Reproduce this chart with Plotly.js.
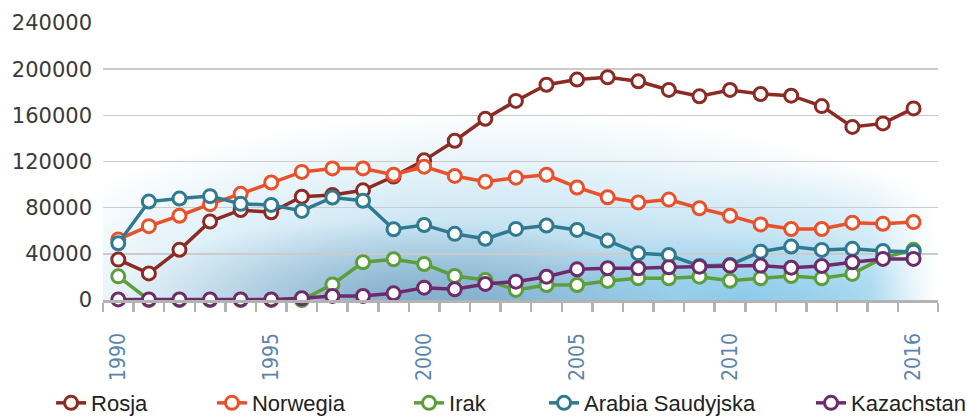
<!DOCTYPE html>
<html>
<head>
<meta charset="utf-8">
<script src="https://cdn.plot.ly/plotly-3.0.1.min.js"></script>
<style>
  html, body { margin: 0; padding: 0; background: #ffffff; }
  #wrap { position: relative; width: 967px; height: 418px; overflow: hidden; }
  #glow {
    position: absolute; left: 103px; top: 95px; width: 835px; height: 205px;
    background:
      linear-gradient(to right, rgba(255,255,255,0) 92%, rgba(255,255,255,1) 100%),
      radial-gradient(ellipse 280px 80px at 290px 205px, rgba(70,120,160,0.42), rgba(70,120,160,0) 100%),
      radial-gradient(ellipse 230px 70px at 640px 205px, rgba(110,190,230,0.55), rgba(110,190,230,0) 100%),
      radial-gradient(ellipse 520px 195px at 400px 210px, rgba(125,185,220,0.78), rgba(165,212,236,0.45) 55%, rgba(255,255,255,0) 100%),
      radial-gradient(ellipse 280px 140px at 700px 210px, rgba(130,200,235,0.55), rgba(255,255,255,0) 100%);
  }
  #chart { position: absolute; left: 0; top: 0; width: 967px; height: 418px; }
</style>
</head>
<body>
<div id="wrap">
  <div id="glow"></div>
  <div id="chart"></div>
</div>
<script>
const years = [1990,1991,1992,1993,1994,1995,1996,1997,1998,1999,2000,2001,2002,2003,2004,2005,2006,2007,2008,2009,2010,2011,2012,2013,2014,2015,2016];

const rosja = [35000,23000,43500,68000,78000,76000,89500,91000,95000,107000,121000,138000,157000,172500,186500,191000,193000,189500,182000,176500,182000,178500,177000,168000,150000,153000,166000];
const norwegia = [52500,64000,73000,83000,92000,101800,111000,114000,114000,108500,115500,107500,102500,106000,108500,97500,89000,84500,87000,79500,73000,65500,61500,61500,67000,66000,67500];
const irak = [20500,0,0,0,0,0,0,13500,32700,35300,31200,20800,17400,8700,13000,13000,16500,18800,18800,20200,16700,18800,20800,18800,22600,36500,43500];
const arabia = [49200,85300,87900,90000,83300,82400,77200,88800,86000,61300,65000,57300,53000,61600,64500,60700,51500,40500,39000,29500,30400,41900,46300,43400,44300,42500,41900];
const kazachstan = [500,500,500,500,500,500,1500,3500,3500,5800,10700,9300,13900,15900,20200,26600,27500,27500,28400,28900,29800,29800,28000,29500,32700,35600,35600];

const seriesNames = ["Rosja","Norwegia","Irak","Arabia Saudyjska","Kazachstan"];
const seriesData = [rosja, norwegia, irak, arabia, kazachstan];
const seriesColors = ["#8b2b24","#e9512b","#5c9d3c","#2f7a90","#6e2b6c"];
const legendIds = ["legend","legend2","legend3","legend4","legend5"];
const legendX = [-0.0622, 0.1305, 0.3665, 0.5282, 0.8479];

const yTickVals = [0,40000,80000,120000,160000,200000,240000];
const yTickText = ["0","40000","80000","120000","160000","200000","240000"];
const xTickVals = [1990,1995,2000,2005,2010,2016];
const xTickText = ["1990","1995","2000","2005","2010","2016"];
const xMinorTicks = [1989.5,1990.5,1991.5,1992.5,1993.5,1994.5,1995.5,1996.5,1997.5,1998.5,1999.5,2000.5,2001.5,2002.5,2003.5,2004.5,2005.5,2006.5,2007.5,2008.5,2009.5,2010.5,2011.5,2012.5,2013.5,2014.5,2015.5,2016.8];

const traces = seriesNames.map((name, i) => ({
  type: "scatter",
  mode: "lines+markers",
  name: name,
  x: years,
  y: seriesData[i],
  legend: legendIds[i],
  cliponaxis: false,
  line: { color: seriesColors[i], width: 3.5 },
  marker: { symbol: "circle", size: 13, color: "#ffffff", line: { color: seriesColors[i], width: 3 } },
  hoverinfo: "x+y+name"
}));

const layout = {
  width: 967,
  height: 418,
  margin: { l: 103, r: 29, t: 23, b: 118, autoexpand: false },
  paper_bgcolor: "rgba(0,0,0,0)",
  plot_bgcolor: "rgba(0,0,0,0)",
  showlegend: true,
  xaxis: {
    range: [1989.5, 2016.8],
    showgrid: false,
    zeroline: false,
    showline: true,
    linecolor: "#b3b3b3",
    linewidth: 2.5,
    tickmode: "array",
    tickvals: xTickVals,
    ticktext: xTickText,
    ticks: "",
    tickangle: -90,
    ticklabelstandoff: 22,
    automargin: false,
    tickfont: { family: "DejaVu Sans Condensed, DejaVu Sans", size: 21, color: "#5a84ab" },
    minor: { tickmode: "array", tickvals: xMinorTicks, ticks: "outside", ticklen: 9, tickwidth: 2.5, tickcolor: "#b3b3b3", showgrid: false }
  },
  yaxis: {
    range: [0, 240000],
    tickmode: "array",
    tickvals: yTickVals,
    ticktext: yTickText,
    showgrid: true,
    gridcolor: "#cbcbcb",
    gridwidth: 1.5,
    zeroline: false,
    showline: false,
    ticks: "",
    automargin: false,
    ticklabelstandoff: 10,
    tickfont: { family: "DejaVu Sans", size: 21, color: "#3a3a3a" }
  },
  font: { family: "Liberation Sans, Arial, sans-serif" }
};

legendIds.forEach((id, i) => {
  layout[id] = {
    orientation: "h",
    x: legendX[i],
    xanchor: "left",
    y: -0.372,
    yanchor: "middle",
    bgcolor: "rgba(0,0,0,0)",
    borderwidth: 0,
    font: { family: "Liberation Sans, Arial, sans-serif", size: 22, color: "#222222" }
  };
});

Plotly.newPlot("chart", traces, layout, { displayModeBar: false, staticPlot: true });
</script>
</body>
</html>
